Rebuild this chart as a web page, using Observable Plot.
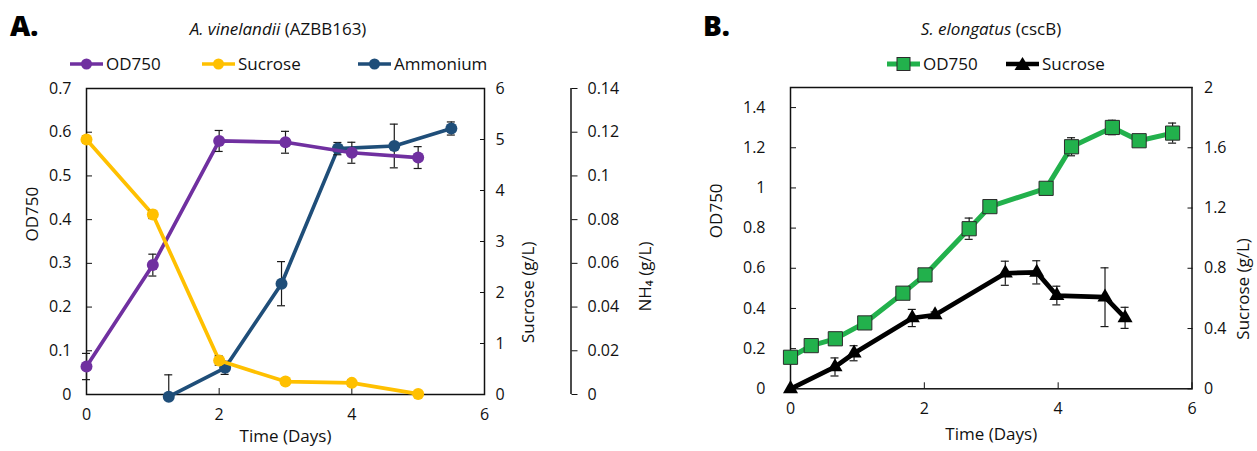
<!DOCTYPE html>
<html>
<head>
<meta charset="utf-8">
<script src="https://cdn.jsdelivr.net/npm/d3@7"></script>
<script src="https://cdn.jsdelivr.net/npm/@observablehq/plot@0.6"></script>
<style>
  body { margin: 0; background: #fff; }
  #wrap { position: relative; width: 1257px; height: 451px; overflow: hidden; font-family: "Open Sans", sans-serif; }
  #wrap > svg { position: absolute; top: 0; }
</style>
</head>
<body>
<div id="wrap"></div>
<script>
// ---------- Panel A: A. vinelandii (AZBB163) ----------
const aDays = [0, 1, 2, 3, 4, 5];
const aOD = [0.064, 0.296, 0.580, 0.577, 0.553, 0.542];
const aODErr = [0.03, 0.025, 0.024, 0.025, 0.024, 0.025];
const aSuc = [5.00, 3.53, 0.666, 0.254, 0.228, 0.012];
const aSucErr = [0.07, 0.08, 0.09, 0.06, 0.06, 0.04];
const aNH4Days = [1.24, 2.09, 2.94, 3.79, 4.64, 5.50];
const aNH4 = [-0.001, 0.0122, 0.0507, 0.1125, 0.1137, 0.1217];
const aNH4Err = [0.010, 0.003, 0.0101, 0.0028, 0.010, 0.003];
const aXTicks = [0, 2, 4, 6];
const aODTicks = [0, 0.1, 0.2, 0.3, 0.4, 0.5, 0.6, 0.7];
const aSucTicks = [0, 1, 2, 3, 4, 5, 6];
const aNH4Ticks = [0, 0.02, 0.04, 0.06, 0.08, 0.1, 0.12, 0.14];

// ---------- Panel B: S. elongatus (cscB) ----------
const bODDays = [0, 0.31, 0.67, 1.11, 1.68, 2.01, 2.67, 2.98, 3.82, 4.20, 4.81, 5.21, 5.71];
const bOD = [0.157, 0.215, 0.249, 0.328, 0.476, 0.567, 0.797, 0.907, 0.998, 1.205, 1.301, 1.235, 1.273];
const bODErr = [0.015, 0.015, 0.015, 0.015, 0.015, 0.015, 0.053, 0.015, 0.015, 0.045, 0.036, 0.015, 0.05];
const bSucDays = [0, 0.665, 0.95, 1.82, 2.16, 3.21, 3.68, 3.98, 4.70, 5.00];
const bSuc = [0, 0.145, 0.236, 0.470, 0.490, 0.767, 0.773, 0.619, 0.608, 0.471];
const bSucErr = [0, 0.06, 0.05, 0.057, 0.02, 0.08, 0.077, 0.062, 0.195, 0.07];
const bXTicks = [0, 2, 4, 6];
const bODTicks = [0, 0.2, 0.4, 0.6, 0.8, 1, 1.2, 1.4];
const bSucTicks = [0, 0.4, 0.8, 1.2, 1.6, 2];

const colors = { purple: "#7030A0", yellow: "#FFC000", blue: "#1F4E79", green: "#22B14C", black: "#000000" };
const fontFamily = '"Open Sans", sans-serif';
const fmt = d => (Math.abs(d) < 1e-9 ? "0" : String(+d.toFixed(3)));

function rows(xs, ys, es, k) {
  return xs.map((x, i) => ({
    x,
    y: ys[i] * k,
    lo: Math.max(0, ys[i] - es[i]) * k,
    hi: (ys[i] + es[i]) * k
  }));
}
function errorBars(data, cap) {
  const s = { stroke: "#1a1a1a", strokeWidth: 1.2 };
  const shown = data.filter(d => d.hi - d.lo > 0);
  return [
    Plot.ruleX(shown, { x: "x", y1: "lo", y2: "hi", ...s }),
    Plot.ruleY(shown, { y: "hi", x1: d => d.x - cap, x2: d => d.x + cap, ...s }),
    Plot.ruleY(shown, { y: "lo", x1: d => d.x - cap, x2: d => d.x + cap, ...s })
  ];
}

const wrap = document.getElementById("wrap");

// ----- Panel A plot -----
{
  const W = 660, ml = 86, mr = 176;
  const odMax = aODTicks[aODTicks.length - 1];
  const sucMax = aSucTicks[aSucTicks.length - 1];
  const nhMax = aNH4Ticks[aNH4Ticks.length - 1];
  const kSuc = odMax / sucMax, kNH = odMax / nhMax;
  const xMax = aXTicks[aXTicks.length - 1];
  const cap = 4 * xMax / (W - ml - mr);
  const rOD = rows(aDays, aOD, aODErr, 1);
  const rSuc = rows(aDays, aSuc, aSucErr, kSuc);
  const rNH = rows(aNH4Days, aNH4, aNH4Err, kNH);
  const plot = Plot.plot({
    width: W, height: 451,
    marginLeft: ml, marginRight: mr, marginTop: 88, marginBottom: 57,
    x: { domain: [0, xMax] },
    y: { domain: [0, odMax] },
    style: { fontFamily, fontSize: "16px", color: "#111", background: "transparent", overflow: "visible" },
    marks: [
      Plot.frame({ stroke: "#111", strokeWidth: 1.5 }),
      Plot.axisX(aXTicks, { tickSize: -6, tickPadding: 20, tickFormat: fmt, label: null }),
      Plot.axisY(aODTicks, { anchor: "left", tickSize: -6, tickPadding: 21, tickFormat: fmt, label: null }),
      Plot.axisY(aSucTicks.map(v => v * kSuc), { anchor: "right", tickSize: -5, tickPadding: 16, tickFormat: d => fmt(d / kSuc), label: null }),
      Plot.axisY(aNH4Ticks.map(v => v * kNH), { anchor: "right", dx: 86.5, tickSize: 6, tickPadding: 10.5, tickFormat: d => fmt(d / kNH), label: null }),
      Plot.ruleX([xMax], { dx: 86.5, y1: 0, y2: odMax, stroke: "#111", strokeWidth: 1.5 }),
      Plot.text(["OD750"], { frameAnchor: "left", dx: -54, rotate: -90, fontSize: 17 }),
      Plot.text(["Sucrose (g/L)"], { frameAnchor: "right", dx: 44, rotate: -90, fontSize: 17 }),
      Plot.text(["NH₄ (g/L)"], { frameAnchor: "right", dx: 161, rotate: -90, fontSize: 17 }),
      Plot.text(["Time (Days)"], { frameAnchor: "bottom", dy: 47, fontSize: 17 }),
      Plot.line(rNH, { x: "x", y: "y", stroke: colors.blue, strokeWidth: 3.7 }),
      ...errorBars(rNH, cap),
      Plot.dot(rNH, { x: "x", y: "y", r: 6, fill: colors.blue }),
      Plot.line(rOD, { x: "x", y: "y", stroke: colors.purple, strokeWidth: 3.7 }),
      ...errorBars(rOD, cap),
      Plot.dot(rOD, { x: "x", y: "y", r: 6, fill: colors.purple }),
      Plot.line(rSuc, { x: "x", y: "y", stroke: colors.yellow, strokeWidth: 3.7 }),
      ...errorBars(rSuc, cap),
      Plot.dot(rSuc, { x: "x", y: "y", r: 6, fill: colors.yellow })
    ]
  });
  plot.style.left = "0px";
  wrap.appendChild(plot);
}

// ----- Panel B plot -----
{
  const W = 597, ml = 130, mr = 65.5;
  const odMax = 1.5;
  const sucMax = bSucTicks[bSucTicks.length - 1];
  const kSuc = odMax / sucMax;
  const xMax = bXTicks[bXTicks.length - 1];
  const cap = 4 * xMax / (W - ml - mr);
  const rOD = rows(bODDays, bOD, bODErr, 1);
  const rSuc = rows(bSucDays, bSuc, bSucErr, kSuc);
  const plot = Plot.plot({
    width: W, height: 451,
    marginLeft: ml, marginRight: mr, marginTop: 87, marginBottom: 62.7,
    x: { domain: [0, xMax] },
    y: { domain: [0, odMax] },
    style: { fontFamily, fontSize: "16px", color: "#111", background: "transparent", overflow: "visible" },
    marks: [
      Plot.frame({ stroke: "#111", strokeWidth: 1.5 }),
      Plot.axisX(bXTicks, { tickSize: -6, tickPadding: 20, tickFormat: fmt, label: null }),
      Plot.axisY(bODTicks, { anchor: "left", tickSize: -6, tickPadding: 31, tickFormat: fmt, label: null }),
      Plot.axisY(bSucTicks.map(v => v * kSuc), { anchor: "right", tickSize: -5, tickPadding: 17, tickFormat: d => fmt(d / kSuc), label: null }),
      Plot.text(["OD750"], { frameAnchor: "left", dx: -74, rotate: -90, fontSize: 17 }),
      Plot.text(["Sucrose (g/L)"], { frameAnchor: "right", dx: 52, rotate: -90, fontSize: 17 }),
      Plot.text(["Time (Days)"], { frameAnchor: "bottom", dy: 51, fontSize: 17 }),
      Plot.line(rOD, { x: "x", y: "y", stroke: colors.green, strokeWidth: 5 }),
      ...errorBars(rOD, cap),
      Plot.dot(rOD, { x: "x", y: "y", r: 8, symbol: "square", fill: colors.green, stroke: "#2b2b2b", strokeWidth: 1 }),
      Plot.line(rSuc, { x: "x", y: "y", stroke: colors.black, strokeWidth: 4.7 }),
      ...errorBars(rSuc, cap),
      Plot.dot(rSuc, { x: "x", y: "y", r: 5.6, symbol: "triangle", fill: colors.black })
    ]
  });
  plot.style.left = "660px";
  wrap.appendChild(plot);
}

// ----- Headers: panel letters, titles, legends -----
{
  const ns = "http://www.w3.org/2000/svg";
  const svg = document.createElementNS(ns, "svg");
  svg.setAttribute("width", 1257);
  svg.setAttribute("height", 90);
  svg.style.left = "0px";
  svg.style.fontFamily = fontFamily;
  const el = (tag, attrs, text) => {
    const e = document.createElementNS(ns, tag);
    for (const k in attrs) e.setAttribute(k, attrs[k]);
    if (text != null) e.textContent = text;
    svg.appendChild(e);
    return e;
  };
  el("text", { x: 10, y: 36, "font-size": 28, "font-weight": 800, fill: "#000" }, "A.");
  el("text", { x: 703, y: 36, "font-size": 28, "font-weight": 800, fill: "#000" }, "B.");
  const title = (x, italic, rest) => {
    const t = el("text", { x, y: 35, "font-size": 17, "text-anchor": "middle", fill: "#111" });
    const a = document.createElementNS(ns, "tspan");
    a.setAttribute("font-style", "italic"); a.textContent = italic; t.appendChild(a);
    const b = document.createElementNS(ns, "tspan");
    b.textContent = rest; t.appendChild(b);
  };
  title(278, "A. vinelandii", " (AZBB163)");
  title(991, "S. elongatus", " (cscB)");
  const legendItem = (x0, color, label, marker, sw) => {
    el("line", { x1: x0, x2: x0 + 33, y1: 64, y2: 64, stroke: color, "stroke-width": sw });
    const cx = x0 + 16.5;
    if (marker === "circle") el("circle", { cx, cy: 64, r: 5.5, fill: color });
    if (marker === "square") el("rect", { x: cx - 6.5, y: 57.5, width: 13, height: 13, fill: color, stroke: "#2b2b2b", "stroke-width": 1 });
    if (marker === "triangle") el("path", { d: `M${cx},${57}L${cx + 8},${70}L${cx - 8},${70}Z`, fill: color });
    el("text", { x: x0 + 36, y: 70, "font-size": 17, fill: "#111" }, label);
  };
  legendItem(70, colors.purple, "OD750", "circle", 3.7);
  legendItem(202, colors.yellow, "Sucrose", "circle", 3.7);
  legendItem(358, colors.blue, "Ammonium", "circle", 3.7);
  legendItem(887, colors.green, "OD750", "square", 5);
  legendItem(1006, colors.black, "Sucrose", "triangle", 4.7);
  wrap.appendChild(svg);
}
</script>
</body>
</html>
